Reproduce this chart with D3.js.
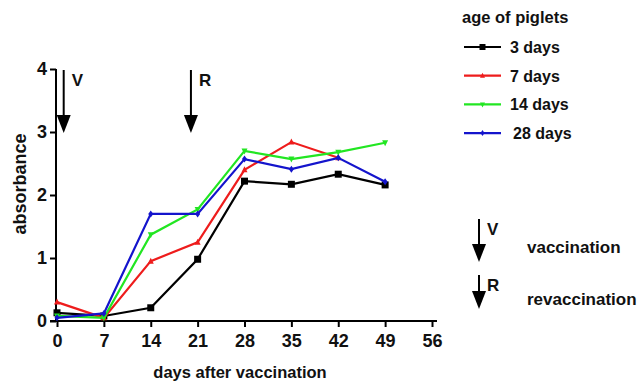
<!DOCTYPE html>
<html>
<head>
<meta charset="utf-8">
<script src="https://cdn.jsdelivr.net/npm/d3@7"></script>
<style>
    body { margin: 0; background: #fff; }
    text { font-family: "Liberation Sans", Arial, sans-serif; font-weight: bold; fill: #111; }
</style>
</head>
<body>
<div id="chart"></div>
<script>
// data
var days = [0, 7, 14, 21, 28, 35, 42, 49];
var xTicks = [0, 7, 14, 21, 28, 35, 42, 49, 56];
var yTicks = [0, 1, 2, 3, 4];
var seriesNames = ["3 days", "7 days", "14 days", "28 days"];
var seriesColors = ["#000000", "#ee1c1c", "#22e622", "#1414cc"];
var seriesMarkers = ["square", "triUp", "triDown", "diamond"];
var values3 = [0.13, 0.08, 0.21, 0.98, 2.22, 2.17, 2.33, 2.16];
var values7 = [0.30, 0.05, 0.95, 1.25, 2.40, 2.84, 2.59, null];
var values14 = [0.08, 0.05, 1.37, 1.77, 2.70, 2.57, 2.68, 2.83];
var values28 = [0.05, 0.12, 1.70, 1.70, 2.57, 2.41, 2.59, 2.21];
// vaccination / revaccination arrows
var arrowDays = [1, 20];
var arrowLabels = ["V", "R"];

var allValues = [values3, values7, values14, values28];

// 0.size
var svgW = 643, svgH = 383;
var margin = {top: 69, left: 57};
var plotW = 375, plotH = 252;

var svg = d3.select("#chart").append("svg").attr("width", svgW).attr("height", svgH);
var g = svg.append("g").attr("transform", "translate(" + margin.left + "," + margin.top + ")");

var xScale = d3.scaleLinear().domain([0, 56]).range([0, plotW]);
var yScale = d3.scaleLinear().domain([0, 4]).range([plotH, 0]);

// 1.axes
var xAxis = g.append("g")
    .attr("transform", "translate(0," + plotH + ")")
    .call(d3.axisBottom(xScale).tickValues(xTicks).tickFormat(d3.format("d")).tickSize(6).tickPadding(7));
xAxis.select(".domain").attr("d", "M-7,0H" + (plotW + 5)).attr("stroke-width", 2);

var yAxis = g.append("g")
    .attr("transform", "translate(-1,0)")
    .call(d3.axisLeft(yScale).tickValues(yTicks).tickFormat(d3.format("d")).tickSize(6).tickPadding(3));
yAxis.select(".domain").attr("d", "M0," + (plotH + 1) + "V0").attr("stroke-width", 2);

svg.selectAll(".tick line").attr("stroke-width", 2);
svg.selectAll(".tick text")
    .attr("font-size", 18)
    .attr("font-family", "Liberation Sans, Arial, sans-serif")
    .attr("font-weight", "bold")
    .attr("fill", "#111");

svg.append("text")
    .attr("x", 240).attr("y", 378)
    .attr("text-anchor", "middle").style("font-size", "16.5px")
    .text("days after vaccination");

svg.append("text")
    .attr("transform", "translate(26,184) rotate(-90)")
    .attr("text-anchor", "middle").style("font-size", "18px")
    .text("absorbance");

// 2.markers
function markerPath(type, s) {
    if (type == "square") return "M" + (-s) + "," + (-s) + "h" + (2 * s) + "v" + (2 * s) + "h" + (-2 * s) + "Z";
    if (type == "triUp") return "M0," + (-s - 1) + "L" + (s + 0.5) + "," + s + "L" + (-s - 0.5) + "," + s + "Z";
    if (type == "triDown") return "M0," + (s + 1) + "L" + (s + 0.5) + "," + (-s) + "L" + (-s - 0.5) + "," + (-s) + "Z";
    return "M0," + (-s - 1) + "L" + s + ",0L0," + (s + 1) + "L" + (-s) + ",0Z";
}

var line = d3.line()
    .defined(function(d) { return d.v != null; })
    .x(function(d) { return xScale(d.day); })
    .y(function(d) { return yScale(d.v); });

allValues.forEach(function(vals, i) {
    var pts = days.map(function(day, j) { return {day: day, v: vals[j]}; });
    g.append("path")
        .datum(pts)
        .attr("d", line)
        .attr("fill", "none")
        .attr("stroke", seriesColors[i])
        .attr("stroke-width", 2.2)
        .attr("stroke-linejoin", "miter");
    g.selectAll(".mk" + i)
        .data(pts.filter(function(d) { return d.v != null; }))
        .enter().append("path")
        .attr("transform", function(d) { return "translate(" + xScale(d.day) + "," + yScale(d.v) + ")"; })
        .attr("d", markerPath(seriesMarkers[i], i == 0 ? 3.5 : 2.5))
        .attr("fill", seriesColors[i]);
});

// 3.arrows
function drawArrow(parent, x, y0, y1, label) {
    parent.append("line")
        .attr("x1", x).attr("x2", x).attr("y1", y0).attr("y2", y1 - 14)
        .attr("stroke", "#000").attr("stroke-width", 2);
    parent.append("path")
        .attr("d", "M" + (x - 7) + "," + (y1 - 18) + "L" + (x + 7) + "," + (y1 - 18) + "L" + x + "," + y1 + "Z")
        .attr("fill", "#000");
    parent.append("text")
        .attr("x", x + 8).attr("y", y0 + 16)
        .style("font-size", "17px")
        .text(label);
}

arrowDays.forEach(function(d, i) {
    drawArrow(g, xScale(d), yScale(4) + 1, yScale(3) + 1, arrowLabels[i]);
});

// 4.legend
var legend = svg.append("g");
legend.append("text").attr("x", 462).attr("y", 23).style("font-size", "16.5px").text("age of piglets");
seriesNames.forEach(function(name, i) {
    var y = 47 + i * 28.7;
    legend.append("line")
        .attr("x1", 464).attr("x2", 501).attr("y1", y).attr("y2", y)
        .attr("stroke", seriesColors[i]).attr("stroke-width", 2.2);
    legend.append("path")
        .attr("transform", "translate(482.5," + y + ")")
        .attr("d", markerPath(seriesMarkers[i], i == 0 ? 3 : 2))
        .attr("fill", seriesColors[i]);
    legend.append("text")
        .attr("x", i == 3 ? 513 : 510).attr("y", y + 6)
        .style("font-size", "16px")
        .text(name);
});

// arrow key
drawArrow(svg, 479, 219, 262, "V");
svg.append("text").attr("x", 527).attr("y", 253).style("font-size", "17px").text("vaccination");
drawArrow(svg, 479, 275, 309, "R");
svg.append("text").attr("x", 527).attr("y", 305).style("font-size", "17px").text("revaccination");
</script>
</body>
</html>
